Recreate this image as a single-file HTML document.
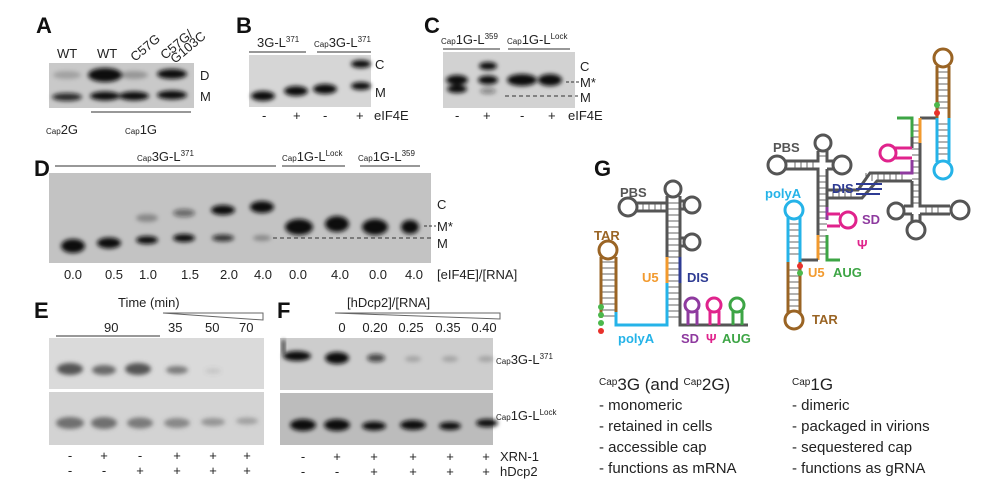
<!DOCTYPE html>
<html><head><meta charset="utf-8"><style>
html,body{margin:0;padding:0;background:#fff;}
svg{display:block;font-family:"Liberation Sans",sans-serif;}
.L{font-weight:bold;font-size:22px;}
.t{font-size:13px;fill:#222;}
.s{font-size:8px;}
.r{stroke:#666;stroke-width:1;}
</style></head><body>
<svg width="1000" height="495" viewBox="0 0 1000 495" xmlns="http://www.w3.org/2000/svg">
<defs>
<filter id="b" x="-50%" y="-100%" width="200%" height="300%"><feGaussianBlur stdDeviation="2.2"/></filter>
</defs>

<g class="L" fill="#111">
<text x="36" y="33">A</text>
<text x="236" y="33">B</text>
<text x="424" y="33">C</text>
<text x="34" y="176">D</text>
<text x="34" y="318">E</text>
<text x="277" y="318">F</text>
<text x="594" y="176">G</text>
</g>

<!-- ===== A ===== -->
<text class="t" x="57" y="58">WT</text>
<text class="t" x="97" y="58">WT</text>
<text class="t" transform="translate(135,62) rotate(-40)">C57G</text>
<text class="t" transform="translate(165,60) rotate(-40)">C57G/</text>
<text class="t" transform="translate(175,64) rotate(-40)">G103C</text>
<rect x="49" y="63" width="145" height="45" fill="#c9c9c9"/>
<g fill="#111" filter="url(#b)">
<ellipse cx="67" cy="97" rx="15" ry="4" opacity=".85"/>
<ellipse cx="67" cy="75" rx="14" ry="4" opacity=".2"/>
<ellipse cx="105" cy="75" rx="17" ry="7"/>
<ellipse cx="105" cy="96" rx="15" ry="4.5"/>
<ellipse cx="134" cy="75" rx="14" ry="4" opacity=".25"/>
<ellipse cx="134" cy="96" rx="15" ry="4.5"/>
<ellipse cx="172" cy="74" rx="15" ry="5"/>
<ellipse cx="172" cy="95" rx="15" ry="4.5"/>
</g>
<text class="t" x="200" y="80">D</text>
<text class="t" x="200" y="101">M</text>
<line x1="91" y1="112" x2="191" y2="112" stroke="#777" stroke-width="1.5"/>
<text class="t" x="46" y="134"><tspan class="s">Cap</tspan>2G</text>
<text class="t" x="125" y="134"><tspan class="s">Cap</tspan>1G</text>

<!-- ===== B ===== -->
<text class="t" x="257" y="47">3G-L<tspan class="s" dy="-5">371</tspan></text>
<text class="t" x="314" y="47"><tspan class="s">Cap</tspan>3G-L<tspan class="s" dy="-5">371</tspan></text>
<line x1="249" y1="52" x2="306" y2="52" stroke="#777" stroke-width="1.5"/>
<line x1="317" y1="52" x2="371" y2="52" stroke="#777" stroke-width="1.5"/>
<rect x="249" y="55" width="122" height="52" fill="#d6d6d6"/>
<g fill="#111" filter="url(#b)">
<ellipse cx="263" cy="96" rx="12" ry="5"/>
<ellipse cx="296" cy="91" rx="12" ry="5"/>
<ellipse cx="325" cy="89" rx="12" ry="5"/>
<ellipse cx="361" cy="86" rx="10" ry="4"/>
<ellipse cx="361" cy="64" rx="10" ry="4"/>
</g>
<text class="t" x="375" y="69">C</text>
<text class="t" x="375" y="97">M</text>
<g class="t" font-size="14"><text x="262" y="120">-</text><text x="293" y="120">+</text><text x="323" y="120">-</text><text x="356" y="120">+</text><text x="374" y="120">eIF4E</text></g>

<!-- ===== C ===== -->
<text class="t" x="441" y="44"><tspan class="s">Cap</tspan>1G-L<tspan class="s" dy="-5">359</tspan></text>
<text class="t" x="507" y="44"><tspan class="s">Cap</tspan>1G-L<tspan class="s" dy="-5">Lock</tspan></text>
<line x1="443" y1="49" x2="500" y2="49" stroke="#777" stroke-width="1.5"/>
<line x1="508" y1="49" x2="570" y2="49" stroke="#777" stroke-width="1.5"/>
<rect x="443" y="52" width="132" height="56" fill="#d2d2d2"/>
<g fill="#111" filter="url(#b)">
<ellipse cx="457" cy="80" rx="11" ry="5"/>
<ellipse cx="457" cy="89" rx="10" ry="4"/>
<ellipse cx="488" cy="66" rx="9" ry="4"/>
<ellipse cx="488" cy="80" rx="10" ry="4.5"/>
<ellipse cx="488" cy="91" rx="8" ry="3" opacity=".4"/>
<ellipse cx="522" cy="80" rx="15" ry="6"/>
<ellipse cx="550" cy="80" rx="12" ry="6"/>
</g>
<line x1="505" y1="96" x2="578" y2="96" stroke="#333" stroke-dasharray="4,3"/>
<line x1="566" y1="82" x2="580" y2="82" stroke="#333" stroke-dasharray="3,2"/>
<text class="t" x="580" y="71">C</text>
<text class="t" x="580" y="87">M*</text>
<text class="t" x="580" y="102">M</text>
<g class="t" font-size="14"><text x="455" y="120">-</text><text x="483" y="120">+</text><text x="520" y="120">-</text><text x="548" y="120">+</text><text x="568" y="120">eIF4E</text></g>

<!-- ===== D ===== -->
<text class="t" x="137" y="161"><tspan class="s">Cap</tspan>3G-L<tspan class="s" dy="-5">371</tspan></text>
<text class="t" x="282" y="161"><tspan class="s">Cap</tspan>1G-L<tspan class="s" dy="-5">Lock</tspan></text>
<text class="t" x="358" y="161"><tspan class="s">Cap</tspan>1G-L<tspan class="s" dy="-5">359</tspan></text>
<line x1="55" y1="166" x2="276" y2="166" stroke="#777" stroke-width="1.5"/>
<line x1="282" y1="166" x2="345" y2="166" stroke="#777" stroke-width="1.5"/>
<line x1="360" y1="166" x2="420" y2="166" stroke="#777" stroke-width="1.5"/>
<rect x="49" y="173" width="382" height="90" fill="#c3c3c3"/>
<g fill="#111" filter="url(#b)">
<ellipse cx="73" cy="246" rx="12" ry="7"/>
<ellipse cx="109" cy="243" rx="12" ry="5.5"/>
<ellipse cx="147" cy="240" rx="11" ry="4"/>
<ellipse cx="147" cy="218" rx="11" ry="4" opacity=".3"/>
<ellipse cx="184" cy="238" rx="11" ry="4"/>
<ellipse cx="184" cy="213" rx="11" ry="4" opacity=".5"/>
<ellipse cx="223" cy="238" rx="11" ry="3.5" opacity=".8"/>
<ellipse cx="223" cy="210" rx="12" ry="5"/>
<ellipse cx="262" cy="207" rx="12" ry="6"/>
<ellipse cx="262" cy="238" rx="9" ry="3" opacity=".3"/>
<ellipse cx="299" cy="227" rx="14" ry="8"/>
<ellipse cx="337" cy="224" rx="12" ry="8"/>
<ellipse cx="375" cy="227" rx="13" ry="8"/>
<ellipse cx="410" cy="227" rx="9" ry="7"/>
</g>
<line x1="273" y1="238" x2="432" y2="238" stroke="#333" stroke-dasharray="4,3"/>
<line x1="424" y1="226" x2="436" y2="226" stroke="#333" stroke-dasharray="3,2"/>
<text class="t" x="437" y="209">C</text>
<text class="t" x="437" y="231">M*</text>
<text class="t" x="437" y="248">M</text>
<g class="t" text-anchor="middle"><text x="73" y="279">0.0</text><text x="114" y="279">0.5</text><text x="148" y="279">1.0</text><text x="190" y="279">1.5</text><text x="229" y="279">2.0</text><text x="263" y="279">4.0</text><text x="298" y="279">0.0</text><text x="340" y="279">4.0</text><text x="378" y="279">0.0</text><text x="414" y="279">4.0</text></g>
<text class="t" x="437" y="279">[eIF4E]/[RNA]</text>

<!-- ===== E ===== -->
<text class="t" x="118" y="307">Time (min)</text>
<polygon points="163,313 263,313 263,320" fill="#fff" stroke="#666"/>
<text class="t" x="104" y="332">90</text>
<line x1="56" y1="336" x2="160" y2="336" stroke="#777" stroke-width="1.5"/>
<text class="t" x="168" y="332">35</text><text class="t" x="205" y="332">50</text><text class="t" x="239" y="332">70</text>
<rect x="49" y="338" width="215" height="51" fill="#dadada"/>
<rect x="49" y="392" width="215" height="53" fill="#d3d3d3"/>
<g fill="#555" filter="url(#b)">
<ellipse cx="70" cy="369" rx="13" ry="6"/>
<ellipse cx="104" cy="370" rx="12" ry="5" opacity=".85"/>
<ellipse cx="138" cy="369" rx="13" ry="6"/>
<ellipse cx="177" cy="370" rx="11" ry="4" opacity=".7"/>
<ellipse cx="213" cy="371" rx="8" ry="3" opacity=".15"/>
<ellipse cx="70" cy="423" rx="14" ry="6" opacity=".8"/>
<ellipse cx="104" cy="423" rx="13" ry="6" opacity=".8"/>
<ellipse cx="140" cy="423" rx="13" ry="5.5" opacity=".7"/>
<ellipse cx="177" cy="423" rx="13" ry="5" opacity=".6"/>
<ellipse cx="213" cy="422" rx="12" ry="4" opacity=".5"/>
<ellipse cx="247" cy="421" rx="11" ry="3.5" opacity=".4"/>
</g>
<g class="t" font-size="14" text-anchor="middle">
<text x="70" y="460">-</text><text x="104" y="460">+</text><text x="140" y="460">-</text><text x="177" y="460">+</text><text x="213" y="460">+</text><text x="247" y="460">+</text>
<text x="70" y="475">-</text><text x="104" y="475">-</text><text x="140" y="475">+</text><text x="177" y="475">+</text><text x="213" y="475">+</text><text x="247" y="475">+</text>
</g>

<!-- ===== F ===== -->
<text class="t" x="347" y="307">[hDcp2]/[RNA]</text>
<polygon points="335,313 500,313 500,319" fill="#fff" stroke="#666"/>
<g class="t" text-anchor="middle"><text x="342" y="332">0</text><text x="375" y="332">0.20</text><text x="411" y="332">0.25</text><text x="448" y="332">0.35</text><text x="484" y="332">0.40</text></g>
<rect x="280" y="338" width="213" height="52" fill="#cdcdcd"/>
<rect x="280" y="393" width="213" height="52" fill="#bcbcbc"/>
<g fill="#111" filter="url(#b)">
<ellipse cx="297" cy="356" rx="14" ry="5"/>
<ellipse cx="337" cy="358" rx="12" ry="6"/>
<ellipse cx="376" cy="358" rx="9" ry="4" opacity=".7"/>
<ellipse cx="413" cy="359" rx="8" ry="3" opacity=".2"/>
<ellipse cx="450" cy="359" rx="8" ry="3" opacity=".2"/>
<ellipse cx="486" cy="359" rx="8" ry="3" opacity=".2"/>
<ellipse cx="303" cy="425" rx="13" ry="6"/>
<ellipse cx="337" cy="425" rx="13" ry="6"/>
<ellipse cx="374" cy="426" rx="12" ry="4.5"/>
<ellipse cx="413" cy="425" rx="13" ry="5"/>
<ellipse cx="450" cy="426" rx="11" ry="4"/>
<ellipse cx="487" cy="423" rx="11" ry="4"/>
</g>
<rect x="282" y="340" width="3" height="14" fill="#222" filter="url(#b)"/>
<text class="t" x="496" y="364"><tspan class="s">Cap</tspan>3G-L<tspan class="s" dy="-5">371</tspan></text>
<text class="t" x="496" y="420"><tspan class="s">Cap</tspan>1G-L<tspan class="s" dy="-5">Lock</tspan></text>
<g class="t" font-size="14" text-anchor="middle">
<text x="303" y="461">-</text><text x="337" y="461">+</text><text x="374" y="461">+</text><text x="413" y="461">+</text><text x="450" y="461">+</text><text x="486" y="461">+</text>
<text x="303" y="476">-</text><text x="337" y="476">-</text><text x="374" y="476">+</text><text x="413" y="476">+</text><text x="450" y="476">+</text><text x="486" y="476">+</text>
</g>
<text class="t" x="500" y="461">XRN-1</text>
<text class="t" x="500" y="476">hDcp2</text>

<!-- ===== G left structure ===== -->
<g stroke-width="3" fill="none">
<g class="r">
<path d="M667 203H680M667 209H680M667 215H680M667 221H680M667 227H680M667 233H680M667 239H680M667 245H680M667 251H680M667 257H680M667 263H680M667 269H680M667 275H680M667 281H680M667 287H680M667 293H680M667 299H680M667 305H680M667 311H680M667 317H680"/>
<path d="M643 203V211M649 203V211M655 203V211M661 203V211"/>
<path d="M601 262H616M601 268H616M601 274H616M601 280H616M601 286H616M601 292H616M601 298H616M601 304H616M601 310H616M601 316H616"/>
</g>
<circle cx="673" cy="189" r="8" stroke="#555"/>
<circle cx="628" cy="207" r="9" stroke="#555"/>
<circle cx="692" cy="205" r="8" stroke="#555"/>
<circle cx="692" cy="242" r="8" stroke="#555"/>
<path d="M667 196V257M680 196V257M680 283V325H748" stroke="#555"/>
<path d="M637 203H667M637 211H667M680 201H685M680 209H685M680 238H685M680 246H685" stroke="#555"/>
<path d="M667 257V283" stroke="#f29a2e"/>
<path d="M680 257V283" stroke="#2e3b93"/>
<path d="M667 283V325H616V312" stroke="#25b3e8"/>
<circle cx="608" cy="250" r="9" stroke="#9a6424"/>
<path d="M601 257V318M616 257V312" stroke="#9a6424"/>
<circle cx="692" cy="305" r="7" stroke="#8e3a9f"/><path d="M688 311V325M697 311V325" stroke="#8e3a9f"/>
<circle cx="714" cy="305" r="7" stroke="#e0238c"/><path d="M710 311V325M719 311V325" stroke="#e0238c"/>
<circle cx="737" cy="305" r="7" stroke="#3da545"/><path d="M733 311V325M742 311V325" stroke="#3da545"/>
</g>
<circle cx="601" cy="307" r="3" fill="#4cb84c"/><circle cx="601" cy="315" r="3" fill="#4cb84c"/><circle cx="601" cy="323" r="3" fill="#4cb84c"/><circle cx="601" cy="331" r="3" fill="#e8302a"/>
<g font-weight="bold" font-size="13">
<text x="620" y="197" fill="#555">PBS</text>
<text x="594" y="240" fill="#9a6424">TAR</text>
<text x="642" y="282" fill="#f29a2e">U5</text>
<text x="687" y="282" fill="#2e3b93">DIS</text>
<text x="618" y="343" fill="#25b3e8">polyA</text>
<text x="681" y="343" fill="#8e3a9f">SD</text>
<text x="706" y="343" fill="#e0238c">Ψ</text>
<text x="722" y="343" fill="#3da545">AUG</text>
</g>

<!-- ===== G right structure ===== -->
<g stroke-width="3" fill="none">
<g class="r">
<path d="M819 156H827M819 176H827M819 182H827M819 188H827M819 194H827M819 200H827M819 206H827M819 212H827M819 218H827M819 224H827M819 230H827M819 236H827M819 242H827M819 248H827M819 254H827"/>
<path d="M795 161V169M801 161V169M807 161V169M813 161V169"/>
<path d="M788 224H800M788 230H800M788 236H800M788 242H800M788 248H800M788 254H800M788 270H800M788 276H800M788 282H800M788 288H800M788 294H800M788 300H800M788 306H800"/>
<path d="M912 125H920M912 131H920M912 137H920M912 143H920M912 149H920M912 155H920M912 161H920M912 167H920M912 173H920M912 179H920M912 185H920M912 191H920M912 197H920M912 203H920"/>
<path d="M926 206V214M932 206V214M938 206V214"/>
<path d="M937 72H949M937 78H949M937 84H949M937 90H949M937 96H949M937 102H949M937 108H949M937 124H949M937 130H949M937 136H949M937 142H949M937 148H949M937 154H949"/>
<path d="M866 173V181M872 173V181M878 173V181M884 173V181M890 173V181M896 173V181M902 173V181"/>
<path d="M833 192V198M839 192V198M845 192V198M851 192V198"/>
</g>
<circle cx="823" cy="143" r="8" stroke="#555"/>
<circle cx="777" cy="165" r="9" stroke="#555"/>
<circle cx="842" cy="165" r="9" stroke="#555"/>
<path d="M786 161H818V151M786 169H818V235M827 151V161H833M827 169H833M827 169V207" stroke="#555"/>
<path d="M827 190H858L870 173H912M827 198H862L877 181H912" stroke="#555"/>
<path d="M818 235V260" stroke="#f29a2e"/>
<path d="M800 260H818" stroke="#555"/>
<path d="M827 207V220" stroke="#8e3a9f"/>
<circle cx="848" cy="220" r="8" stroke="#e0238c"/>
<path d="M827 214H840M827 226H840" stroke="#e0238c"/>
<path d="M827 235V260H840" stroke="#3da545"/>
<path d="M856 184H882M856 189H882M856 194H880" stroke="#2e3b93" stroke-width="2"/>
<circle cx="794" cy="210" r="9" stroke="#25b3e8"/>
<path d="M788 217V262M800 217V262" stroke="#25b3e8"/>
<path d="M788 262V313M800 262V313" stroke="#9a6424"/>
<circle cx="794" cy="320" r="9" stroke="#9a6424"/>
<path d="M912 137V148M912 160V173M912 181V206H904M912 214H904M920 143V206H950M920 214H950M920 118H937" stroke="#555"/>
<circle cx="960" cy="210" r="9" stroke="#555"/>
<circle cx="896" cy="211" r="8" stroke="#555"/>
<circle cx="916" cy="230" r="9" stroke="#555"/>
<path d="M912 214V222M920 214V222" stroke="#555"/>
<path d="M897 118H912V137" stroke="#3da545"/>
<path d="M920 118V143" stroke="#f29a2e"/>
<circle cx="888" cy="153" r="8" stroke="#e0238c"/>
<path d="M895 148H912M895 158H912" stroke="#e0238c"/>
<path d="M912 160V173H900" stroke="#8e3a9f"/>
<path d="M937 118V162M949 118V162" stroke="#25b3e8"/>
<circle cx="943" cy="170" r="9" stroke="#25b3e8"/>
<path d="M937 118V66M949 118V66" stroke="#9a6424"/>
<circle cx="943" cy="58" r="9" stroke="#9a6424"/>
</g>
<circle cx="800" cy="266" r="3" fill="#e8302a"/><circle cx="800" cy="273" r="3" fill="#4cb84c"/>
<circle cx="937" cy="105" r="3" fill="#4cb84c"/><circle cx="937" cy="113" r="3" fill="#e8302a"/>
<g font-weight="bold" font-size="13">
<text x="773" y="152" fill="#555">PBS</text>
<text x="765" y="198" fill="#25b3e8">polyA</text>
<text x="832" y="193" fill="#2e3b93">DIS</text>
<text x="862" y="224" fill="#8e3a9f">SD</text>
<text x="857" y="249" fill="#e0238c">Ψ</text>
<text x="808" y="277" fill="#f29a2e">U5</text>
<text x="833" y="277" fill="#3da545">AUG</text>
<text x="812" y="324" fill="#9a6424">TAR</text>
</g>

<!-- ===== G text ===== -->
<g fill="#222">
<text x="599" y="390" font-size="17"><tspan font-size="10" dy="-5">Cap</tspan><tspan dy="5">3G (and </tspan><tspan font-size="10" dy="-5">Cap</tspan><tspan dy="5">2G)</tspan></text>
<text x="599" y="410" font-size="15">- monomeric</text>
<text x="599" y="431" font-size="15">- retained in cells</text>
<text x="599" y="452" font-size="15">- accessible cap</text>
<text x="599" y="473" font-size="15">- functions as mRNA</text>
<text x="792" y="390" font-size="17"><tspan font-size="10" dy="-5">Cap</tspan><tspan dy="5">1G</tspan></text>
<text x="792" y="410" font-size="15">- dimeric</text>
<text x="792" y="431" font-size="15">- packaged in virions</text>
<text x="792" y="452" font-size="15">- sequestered cap</text>
<text x="792" y="473" font-size="15">- functions as gRNA</text>
</g>
</svg>
</body></html>
